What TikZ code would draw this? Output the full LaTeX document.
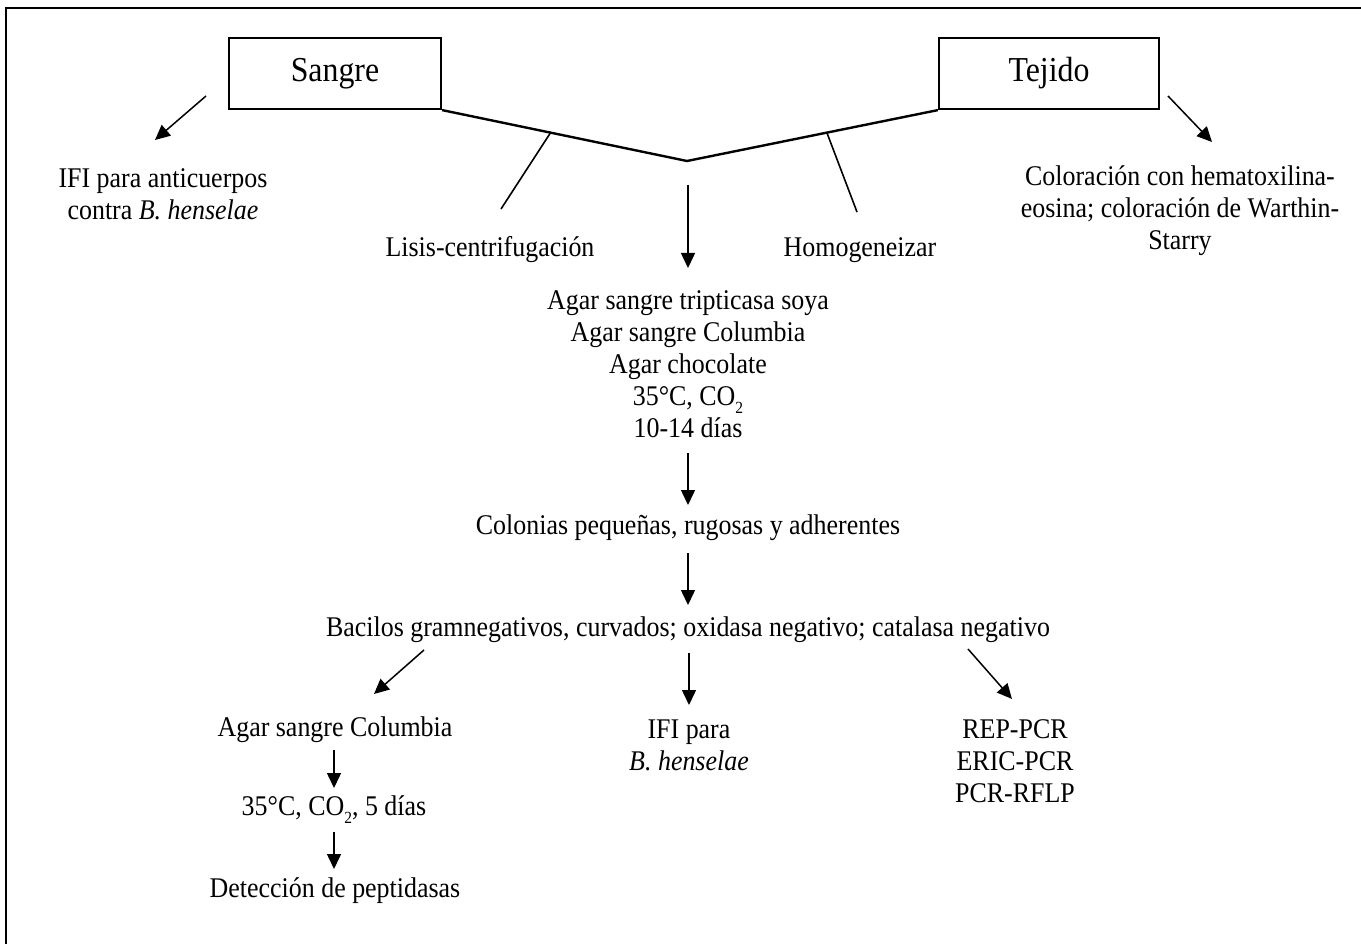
\documentclass[tikz,border=0pt]{standalone}
\usepackage{fontspec}
\setmainfont{Liberation Serif}[FakeStretch=0.91]
\usetikzlibrary{arrows.meta}
\newcommand{\lowtwo}{\raisebox{-0.28em}{\fontsize{17}{17}\selectfont 2}}
\tikzset{
  txt/.style={inner sep=0pt, align=center, font=\fontsize{28.5}{32}\selectfont},
  boxnode/.style={draw, line width=2.2pt, minimum width=212pt, minimum height=71pt, inner sep=0pt, font=\fontsize{35}{38}\selectfont},
  arr/.style={line width=1.5pt, -{Triangle[length=15pt,width=14pt]}},
  vline/.style={line width=2.4pt},
  tick/.style={line width=1.6pt},
}
\begin{document}
\begin{tikzpicture}[x=1pt,y=-1pt]
\useasboundingbox (0,0) rectangle (1361,944);
% frame
\draw[line width=2.6pt] (6,944) -- (6,8) -- (1361,8);
% boxes
\node[boxnode] (sangre) at (335,73.5) {Sangre};
\node[boxnode, minimum width=220pt] (tejido) at (1049,73.5) {Tejido};
% texts
\node[txt] (ifi) at (163,194) {IFI para anticuerpos\\contra \textit{B. henselae}};
\node[txt] (lisis) at (490,250) {Lisis-centrifugación};
\node[txt] (homog) at (860,250) {Homogeneizar};
\node[txt] (color) at (1180,211) {Coloración con hematoxilina-\\eosina; coloración de Warthin-\\Starry};
\node[txt] (agar) at (688,364) {Agar sangre tripticasa soya\\Agar sangre Columbia\\Agar chocolate\\35°C, CO\lowtwo\\10-14 días};
\node[txt] (colonias) at (688,528) {Colonias pequeñas, rugosas y adherentes};
\node[txt] (bacilos) at (688,630) {Bacilos gramnegativos, curvados; oxidasa negativo; catalasa negativo};
\node[txt] (columbia) at (335,730) {Agar sangre Columbia};
\node[txt] (incub) at (334,810) {35°C, CO\lowtwo, 5 días};
\node[txt] (detec) at (335,891) {Detección de peptidasas};
\node[txt] (ifib) at (689,745) {IFI para\\\textit{B. henselae}};
\node[txt] (pcr) at (1015,761) {REP-PCR\\ERIC-PCR\\PCR-RFLP};
% V connector
\coordinate (vtx) at (687,161);
\draw[vline] (sangre.south east) -- (vtx) -- (tejido.south west);
\coordinate (l1) at (551,132); \coordinate (l2) at (501,209);
\coordinate (h1) at (827,133); \coordinate (h2) at (857,212);
\draw[tick] (l1) -- (l2);
\draw[tick] (h1) -- (h2);
% arrows
\coordinate (s1) at (206,96); \coordinate (s2) at (155,140);
\coordinate (t1) at (1168,96); \coordinate (t2) at (1212,142);
\draw[arr] (s1) -- (s2);
\draw[arr] (t1) -- (t2);
\coordinate (d1) at (688,185); \coordinate (d2) at (688,268);
\draw[arr] (d1) -- (d2);
\coordinate (c1) at (688,453); \coordinate (c2) at (688,505);
\draw[arr] (c1) -- (c2);
\coordinate (b1) at (688,553); \coordinate (b2) at (688,605);
\draw[arr] (b1) -- (b2);
\coordinate (ll1) at (424,650); \coordinate (ll2) at (374,694);
\draw[arr] (ll1) -- (ll2);
\coordinate (m1) at (689,653); \coordinate (m2) at (689,705);
\draw[arr] (m1) -- (m2);
\coordinate (r1) at (968,649); \coordinate (r2) at (1012,699);
\draw[arr] (r1) -- (r2);
\coordinate (q1) at (334,750); \coordinate (q2) at (334,788);
\draw[arr] (q1) -- (q2);
\coordinate (p1) at (334,832); \coordinate (p2) at (334,869);
\draw[arr] (p1) -- (p2);
\end{tikzpicture}
\end{document}
